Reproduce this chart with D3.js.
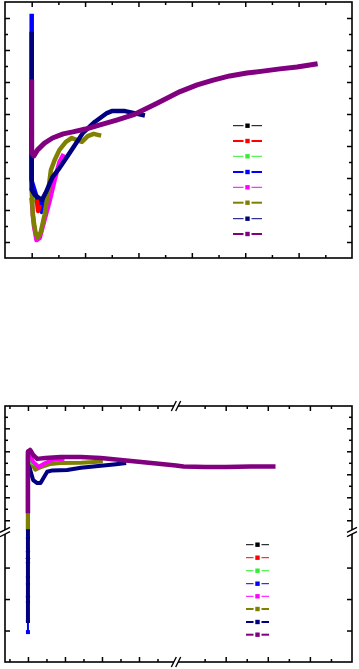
<!DOCTYPE html>
<html><head><meta charset="utf-8">
<script src="https://cdn.jsdelivr.net/npm/d3@7"></script>
<style>html,body{margin:0;padding:0;background:#fff;}svg{display:block;}</style>
</head><body>
<svg id="chart" width="359" height="669"></svg>
<script>
// ---------- data ----------
const seriesColors = ["#000000","#ff0000","#33ee33","#0000ff","#ff00ff","#808000","#000080","#800080"];
const legendWidthsTop = [1,2,1,2,1,2,1,2];
const legendWidthsBottom = [1,1,1,1,1,2,2,2];

// top panel series ([x, y] in axis units)
const topBlack   = [[0,3.5],[0,2.0]];
const topRed     = [[0.10,1.25],[0.12,0.97],[0.14,1.10]];
const topGreen   = [[0,1.8],[0.02,1.5],[0.05,1.3]];
const topBlue    = [[0,7.06],[0,1.9],[0.08,1.47],[0.15,1.16],[0.19,0.94],[0.23,1.31]];
const topMagenta = [[0,1.31],[0.04,0.53],[0.09,0.06],[0.15,0.13],[0.23,0.63],[0.34,1.31],[0.43,1.94],[0.52,2.50],[0.58,2.69]];
const topOlive   = [[0,1.63],[0.02,0.84],[0.07,0.31],[0.11,0.13],[0.17,0.31],[0.24,0.84],[0.30,1.47],[0.36,2.25],[0.43,2.56],[0.52,2.88],[0.64,3.13],[0.75,3.25],[0.84,3.19],[0.94,3.13],[1.05,3.31],[1.16,3.38],[1.26,3.34]];
const topNavy    = [[0,6.5],[0,1.63],[0.06,1.47],[0.19,1.31],[0.26,1.53],[0.39,2.03],[0.52,2.31],[0.66,2.66],[0.81,3.03],[0.96,3.41],[1.18,3.75],[1.41,4.03],[1.50,4.09],[1.75,4.09],[2.08,3.97]];
const topPurple  = [[0,5.0],[0,2.78],[0.04,2.69],[0.11,2.88],[0.24,3.09],[0.39,3.25],[0.59,3.38],[0.77,3.44],[1.01,3.53],[1.28,3.66],[1.59,3.81],[1.90,3.97],[2.34,4.33],[2.78,4.70],[3.10,4.91],[3.40,5.06],[3.71,5.19],[4.03,5.28],[4.33,5.34],[4.65,5.41],[4.97,5.47],[5.31,5.56]];
const topXMajor = [0,1,2,3,4,5];
const topXMinor = [0.5,1.5,2.5,3.5,4.5,5.5];
const topYMajor = [0,1,2,3,4,5,6,7];
const topYMinor = [0.5,1.5,2.5,3.5,4.5,5.5,6.5];

// bottom panel series (broken axes)
const botBlack   = [[0,9.6],[0,10.0]];
const botRed     = [[0,10.2],[0,11.0]];
const botGreen   = [[0,11.5],[0,12.9],[0.05,12.6],[0.11,12.5],[0.22,12.42]];
const botBlue    = [[0,0.95],[0,3.5]];
const botMagenta = [[0,11.0],[0,13.0],[0.14,12.54],[0.28,12.32],[0.47,12.49],[0.66,12.62],[0.93,12.67]];
const botOlive   = [[0,9.7],[0,13.0],[0.09,12.5],[0.20,12.2],[0.33,12.3],[0.61,12.45],[0.88,12.49],[1.43,12.50],[1.97,12.55]];
const botNavy    = [[0,1.3],[0,1.91],[0,2.07],[0,2.48],[0,2.70],[0,3.15],[0,3.30],[0,3.50],[0,3.94],[0,12.86],[0.06,12.19],[0.14,11.75],[0.25,11.62],[0.34,11.62],[0.52,12.11],[0.66,12.17],[1.06,12.19],[1.43,12.28],[1.97,12.37],[2.38,12.44],[2.60,12.48]];
const botPurple  = [[0,10.4],[0,12.97],[0.06,13.06],[0.14,12.84],[0.25,12.67],[0.47,12.71],[0.88,12.75],[1.43,12.75],[1.97,12.71],[2.51,12.62],[3.06,12.53],[3.60,12.45],[4.0,12.38],[10.0,12.34],[10.53,12.32],[11.0,12.32],[11.59,12.34],[12.13,12.34]];
const botXMajor = [0,1,2,3,11,12,13];
const botXMinor = [-0.5,0.5,1.5,2.5,3.5,10.5,11.5,12.5,13.5];
const botYMajor = [10,11,12,13,14,1,2,3];
const botYMinor = [10.5,11.5,12.5,13.5,14.5];

// ---------- drawing ----------
const svg = d3.select("#chart");

function drawTicks(g, x, y, xMaj, xMin, yMaj, yMin, left, right, top, bottom, lenMaj, lenMin, ylenMaj, ylenMin) {
  const tk = (axis) => axis.tickFormat("").tickSizeOuter(0);
  const add = (axis, tr) => {
    const a = g.append("g").attr("transform", tr).call(axis);
    a.select(".domain").remove();
    a.selectAll("line").attr("stroke", "#000").attr("stroke-width", 1.5);
  };
  add(tk(d3.axisBottom(x).tickValues(xMaj).tickSize(lenMaj)), `translate(0,${top})`);
  add(tk(d3.axisBottom(x).tickValues(xMin).tickSize(lenMin)), `translate(0,${top})`);
  add(tk(d3.axisTop(x).tickValues(xMaj).tickSize(lenMaj)), `translate(0,${bottom})`);
  add(tk(d3.axisTop(x).tickValues(xMin).tickSize(lenMin)), `translate(0,${bottom})`);
  add(tk(d3.axisRight(y).tickValues(yMaj).tickSize(ylenMaj)), `translate(${left},0)`);
  add(tk(d3.axisRight(y).tickValues(yMin).tickSize(ylenMin)), `translate(${left},0)`);
  add(tk(d3.axisLeft(y).tickValues(yMaj).tickSize(ylenMaj)), `translate(${right},0)`);
  add(tk(d3.axisLeft(y).tickValues(yMin).tickSize(ylenMin)), `translate(${right},0)`);
}

function drawLegend(g, x0, x1, ys, widths) {
  const xm = (x0 + x1) / 2;
  seriesColors.forEach((c, i) => {
    const yy = ys[i];
    g.append("line").attr("x1", x0).attr("x2", xm - 4).attr("y1", yy).attr("y2", yy).attr("stroke", c).attr("stroke-width", widths[i]);
    g.append("line").attr("x1", xm + 4).attr("x2", x1).attr("y1", yy).attr("y2", yy).attr("stroke", c).attr("stroke-width", widths[i]);
    g.append("rect").attr("x", xm - 2.2).attr("y", yy - 2.2).attr("width", 4.4).attr("height", 4.4).attr("fill", c);
  });
}

// ---- top panel ----
{
  const L = 5, R = 352, T = 2, B = 258;
  const x = d3.scaleLinear().domain([-0.5, 6]).range([L, R]);
  const y = d3.scaleLinear().domain([-0.5, 7.5]).range([B, T]);
  const g = svg.append("g");
  const line = d3.line().x(d => x(d[0])).y(d => y(d[1]));
  const order = [[topBlack,0],[topGreen,2],[topBlue,3],[topMagenta,4],[topOlive,5],[topNavy,6],[topRed,1],[topPurple,7]];
  order.forEach(([data, ci]) => {
    g.append("path").datum(data).attr("d", line).attr("fill", "none")
      .attr("stroke", seriesColors[ci]).attr("stroke-width", ci === 7 ? 5 : 4.5)
      .attr("stroke-linejoin", "round").attr("stroke-linecap", "square");
  });
  drawTicks(g, x, y, topXMajor, topXMinor, topYMajor, topYMinor, L, R, T, B, 5, 3, 5, 3);
  g.append("rect").attr("x", L).attr("y", T).attr("width", R - L).attr("height", B - T)
    .attr("fill", "none").attr("stroke", "#000").attr("stroke-width", 1.6);
  const ly = [125.7, 141, 156.3, 172, 187.3, 202.7, 218.7, 234];
  drawLegend(g, 233, 262, ly, legendWidthsTop);
}

// ---- bottom panel ----
{
  const L = 5, R = 352, T = 406, B = 662;
  const xb = 176, yb = 532;
  const x = d3.scaleLinear().domain([-0.62, 4.0, 9.82, 14.0]).range([L, xb, xb, R]);
  const y = d3.scaleLinear().domain([0, 4.13, 9.49, 14.97]).range([B, yb, yb, T]);
  const g = svg.append("g");
  const line = d3.line().x(d => x(d[0])).y(d => y(d[1]));
  const order = [[botBlack,0],[botRed,1],[botBlue,3],[botNavy,6],[botOlive,5],[botGreen,2],[botMagenta,4],[botPurple,7]];
  order.forEach(([data, ci]) => {
    g.append("path").datum(data).attr("d", line).attr("fill", "none")
      .attr("stroke", seriesColors[ci]).attr("stroke-width", ci === 7 ? 4.5 : (ci === 3 ? 2 : 4))
      .attr("stroke-linejoin", "round").attr("stroke-linecap", "square");
  });
  // spike markers
  g.selectAll(".mk").data(botNavy.filter(d => d[0] === 0 && d[1] < 5)).enter().append("circle")
    .attr("cx", d => x(d[0])).attr("cy", d => y(d[1])).attr("r", 2.2).attr("fill", seriesColors[6]);
  g.append("rect").attr("x", x(botBlue[0][0]) - 2).attr("y", y(botBlue[0][1]) - 2).attr("width", 4).attr("height", 4).attr("fill", seriesColors[3]);

  drawTicks(g, x, y, botXMajor, botXMinor, botYMajor, botYMinor, L, R, T, B, 5, 3, 5, 3);
  g.append("rect").attr("x", L).attr("y", T).attr("width", R - L).attr("height", B - T)
    .attr("fill", "none").attr("stroke", "#000").attr("stroke-width", 1.6);

  // axis break marks
  const brk = (cx, cy, vertical) => {
    const bg = g.append("g").attr("transform", `translate(${cx},${cy})`);
    if (vertical) {
      bg.append("rect").attr("x", -2).attr("y", -2).attr("width", 4).attr("height", 4).attr("fill", "#fff");
      [-2.2, 2.2].forEach(o => bg.append("line").attr("x1", o - 2.5).attr("y1", 5).attr("x2", o + 2.5).attr("y2", -5).attr("stroke", "#000").attr("stroke-width", 1.4));
    } else {
      bg.append("rect").attr("x", -2).attr("y", -2).attr("width", 4).attr("height", 4).attr("fill", "#fff");
      [-2.2, 2.2].forEach(o => bg.append("line").attr("x1", -5).attr("y1", o + 2.5).attr("x2", 5).attr("y2", o - 2.5).attr("stroke", "#000").attr("stroke-width", 1.4));
    }
  };
  brk(xb, T, true);
  brk(xb, B, true);
  brk(L, yb, false);
  brk(R, yb, false);

  const ly = [544.7, 557.7, 570.7, 583.7, 596.3, 609, 622, 634.7];
  drawLegend(g, 246, 269, ly, legendWidthsBottom);
}
</script>
</body></html>
